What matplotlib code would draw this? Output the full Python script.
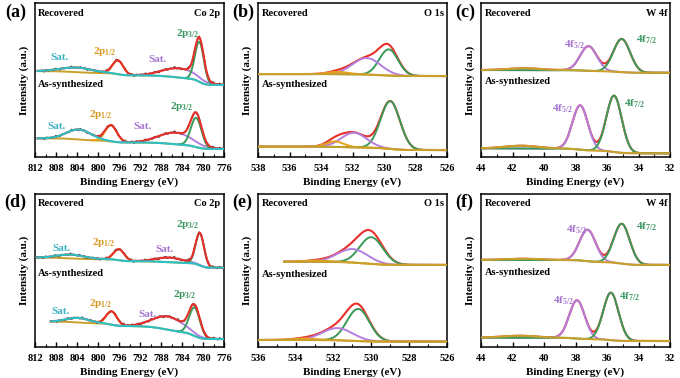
import numpy as np                      # Number handling
import matplotlib.pyplot as plt         # For graphing
from matplotlib.ticker import MultipleLocator

plt.rcParams['font.family'] = ['Liberation Serif', 'DejaVu Serif']
plt.rcParams['font.weight'] = 'bold'
plt.rcParams['axes.labelweight'] = 'bold'
plt.rcParams['mathtext.fontset'] = 'custom'
plt.rcParams['mathtext.rm'] = 'Liberation Serif:bold'
plt.rcParams['mathtext.it'] = 'Liberation Serif:bold:italic'
plt.rcParams['mathtext.bf'] = 'Liberation Serif:bold'

# ---- data (intensity in % of panel height) ----
# Co 2p components: Sat. (~804), 2p1/2, Sat. (~786), 2p3/2
a_rec_center = [804.0, 796.2, 784.5, 780.7]
a_rec_height = [3.0, 9.0, 6.0, 26.0]
a_rec_fwhm = [7.0, 2.4, 7.5, 2.0]
a_rec_base = [55.8, 46.8]          # background at high BE end / low BE end
a_rec_span = [811.5, 776.0]

a_as_center = [803.6, 797.5, 785.2, 781.3]
a_as_height = [6.5, 10.5, 7.5, 19.0]
a_as_fwhm = [5.5, 2.6, 7.5, 2.4]
a_as_base = [12.1, 5.2]
a_as_span = [811.5, 776.0]

d_rec_center = [805.0, 796.0, 786.3, 780.6]
d_rec_height = [2.5, 7.2, 3.0, 21.0]
d_rec_fwhm = [6.0, 2.4, 6.0, 1.9]
d_rec_base = [58.4, 51.8]
d_rec_span = [811.7, 776.0]

d_as_center = [803.7, 797.4, 786.6, 781.6]
d_as_height = [3.0, 8.7, 8.6, 18.5]
d_as_fwhm = [5.0, 2.4, 7.0, 2.4]
d_as_base = [16.6, 5.2]
d_as_span = [809.0, 776.0]

# raw counts scatter around the fit (Co 2p only)
co_noise = [0.6, -0.4, 0.9, -0.7, 0.2, 1.0, -0.5, 0.4, -0.9, 0.7, -0.2, 0.8,
            -0.6, 0.3, -1.0, 0.5, 0.9, -0.3, 0.1, -0.8, 0.6, -0.5, 1.1, -0.2,
            0.4, -0.7, 0.8, -0.1, 0.5, -0.9, 0.3, 0.7, -0.6, 0.2, -0.4, 0.9,
            -0.8, 0.4, -0.3, 0.6, -1.0, 0.7, 0.1, -0.5, 0.8, -0.2, 0.5, -0.7,
            1.0, -0.4, 0.3, -0.6, 0.9, -0.1, 0.4, -0.8, 0.6, -0.3, 0.7, -0.5,
            0.2, -0.9, 0.5, -0.2, 0.8, -0.6, 0.3, -0.4, 1.0, -0.7, 0.4, -0.1,
            0.6, -0.8, 0.2, 0.9, -0.5, 0.3, -0.3, 0.7, -0.9, 0.5, -0.2, 0.4]

# O 1s components: lattice O, OH, adsorbed water
b_rec_center = [529.7, 531.1, 532.9]
b_rec_height = [17.0, 10.8, 1.5]
b_rec_fwhm = [1.4, 2.1, 1.5]
b_rec_base = [53.9, 52.6]
b_rec_span = [538.0, 526.0]

b_as_center = [529.6, 531.9, 533.1]
b_as_height = [31.0, 9.5, 3.5]
b_as_fwhm = [1.45, 1.9, 1.3]
b_as_base = [6.7, 4.5]
b_as_span = [538.0, 526.0]

e_rec_center = [530.0, 531.0, 532.8]
e_rec_height = [17.4, 8.8, 0.8]
e_rec_fwhm = [1.45, 1.9, 1.5]
e_rec_base = [55.7, 53.6]
e_rec_span = [534.6, 526.0]

e_as_center = [530.7, 531.8, 533.5]
e_as_height = [21.0, 8.0, 1.0]
e_as_fwhm = [1.4, 1.9, 1.5]
e_as_base = [4.6, 3.5]
e_as_span = [536.0, 526.0]

# W 4f components: W 5p bump, 4f5/2, 4f7/2
c_rec_center = [41.2, 37.17, 35.06]
c_rec_height = [1.2, 16.0, 21.5]
c_rec_fwhm = [2.5, 1.25, 1.25]
c_rec_base = [56.5, 54.7]
c_rec_span = [44.0, 32.0]

c_as_center = [41.4, 37.7, 35.55]
c_as_height = [1.8, 28.8, 36.6]
c_as_fwhm = [2.5, 1.15, 1.15]
c_as_base = [5.6, 2.4]
c_as_span = [44.0, 32.0]

f_rec_center = [41.2, 37.23, 35.06]
f_rec_height = [0.8, 20.5, 26.0]
f_rec_fwhm = [2.5, 1.2, 1.2]
f_rec_base = [56.9, 53.6]
f_rec_span = [44.0, 32.0]

f_as_center = [41.5, 37.9, 35.75]
f_as_height = [1.3, 25.0, 31.0]
f_as_fwhm = [2.5, 1.15, 1.15]
f_as_base = [6.1, 3.9]
f_as_span = [44.0, 32.0]

RED = '#e8302a'
GREEN = '#3a9a58'
ORANGE = '#e8a01c'
PURPLE = '#b47ede'
TEAL = '#2cc0c4'
OLIVE = '#c8a02a'
RAW = '#3c3c3c'
T_TEAL = '#3ab2c0'
T_ORANGE = '#d89a22'
T_PURPLE = '#a474d0'
T_GREEN = '#3a9660'


def gauss(x, c, h, w):
    return h * np.exp(-4 * np.log(2) * (x - c) ** 2 / w ** 2)


def fit_curves(span, base, center, height, fwhm):  # components + Shirley type background
    x = np.linspace(min(span), max(span), 800)
    comps = [gauss(x, c, h, w) for c, h, w in zip(center, height, fwhm)]
    total = np.sum(comps, axis=0)
    step = np.cumsum(total) / np.sum(total)
    bg = base[1] + (base[0] - base[1]) * step
    return x, bg, comps


def draw_co(ax, span, base, center, height, fwhm):
    x, bg, comps = fit_curves(span, base, center, height, fwhm)
    ax.plot(x, bg, color=OLIVE, lw=1.4, zorder=1)
    for i, col in [(1, ORANGE), (2, PURPLE), (3, GREEN)]:
        m = np.abs(x - center[i]) < 1.4 * fwhm[i]
        ax.plot(x[m], bg[m] + comps[i][m], color=col, lw=1.4, zorder=2)
    env = bg + np.sum(comps, axis=0)
    rx = np.linspace(min(span), max(span), len(co_noise))
    ax.plot(rx, np.interp(rx, x, env) + np.array(co_noise), color=RAW, lw=0.8, zorder=3)
    ax.plot(x, env, color=RED, lw=1.5, zorder=4)
    ax.plot(x, bg + comps[0], color=TEAL, lw=1.5, zorder=5)


def draw_smooth(ax, span, base, center, height, fwhm, colors, bump=False):
    x, bg, comps = fit_curves(span, base, center, height, fwhm)
    env = bg + np.sum(comps, axis=0)
    ax.plot(x, env, color=RED, lw=1.5, zorder=2)
    for comp, col in zip(comps, colors):
        if col is not None:
            ax.plot(x, bg + comp, color=col, lw=1.4, zorder=3)
    top = bg + comps[0] if bump else bg  # W 5p bump sits in the olive line
    ax.plot(x, top, color=OLIVE, lw=1.5, zorder=4)


def style_axes(ax, xlim, major, minor):
    ax.set_ylim(0, 100)
    ax.set_yticks([])
    ticks = np.arange(min(xlim), max(xlim) + 0.1, major)
    ax.set_xticks(ticks)
    ax.set_xticklabels([f'{t:g}' for t in ticks], fontweight='bold')
    ax.xaxis.set_minor_locator(MultipleLocator(minor))
    ax.set_xlim(xlim)
    ax.tick_params(axis='x', which='major', direction='in', length=3.5, width=1, labelsize=7.5, pad=5)
    ax.tick_params(axis='x', which='minor', direction='in', length=2, width=0.8)
    for s in ax.spines.values():
        s.set_linewidth(1.1)
    ax.set_xlabel('Binding Energy (eV)', fontsize=8, labelpad=3, fontweight='bold')
    ax.set_ylabel('Intensity (a.u.)', fontsize=8, labelpad=4, fontweight='bold')


def label(ax, x, y, text, color='black', ha='center', size=7.5):
    ax.text(x, y, text, transform=ax.transAxes, color=color, ha=ha, va='center',
            fontsize=size, fontweight='bold', zorder=10)


fig = plt.figure(figsize=(6.8, 3.78), dpi=100)

cols = [35 / 680, 258 / 680, 481 / 680]
rows = [(0.5847, 0.407), (0.082, 0.405)]
axs = [[fig.add_axes([c, r[0], 189 / 680, r[1]]) for c in cols] for r in rows]

p12 = r'2p$_{1/2}$'
p32 = r'2p$_{3/2}$'
f52 = r'4f$_{5/2}$'
f72 = r'4f$_{7/2}$'

# (a) and (d) Co 2p
co_sets = [
    (axs[0][0], (a_rec_span, a_rec_base, a_rec_center, a_rec_height, a_rec_fwhm),
     (a_as_span, a_as_base, a_as_center, a_as_height, a_as_fwhm),
     [(0.132, 0.647), (0.37, 0.684), (0.648, 0.634), (0.81, 0.803)],
     [(0.115, 0.201), (0.349, 0.273), (0.569, 0.197), (0.776, 0.327)], 0.468, 0.933),
    (axs[1][0], (d_rec_span, d_rec_base, d_rec_center, d_rec_height, d_rec_fwhm),
     (d_as_span, d_as_base, d_as_center, d_as_height, d_as_fwhm),
     [(0.141, 0.645), (0.365, 0.684), (0.683, 0.634), (0.81, 0.797)],
     [(0.137, 0.235), (0.348, 0.286), (0.598, 0.214), (0.794, 0.34)], 0.482, 0.937),
]
for ax, rec, asy, rec_pos, as_pos, as_y, top_y in co_sets:
    draw_co(ax, *rec)
    draw_co(ax, *asy)
    style_axes(ax, (812, 776), 4, 2)
    for pos in (rec_pos, as_pos):
        for (px, py), txt, col in zip(pos, ['Sat.', p12, 'Sat.', p32], [T_TEAL, T_ORANGE, T_PURPLE, T_GREEN]):
            label(ax, px, py, txt, col, size=8)
    label(ax, 0.016, top_y, 'Recovered', ha='left')
    label(ax, 0.98, top_y, 'Co 2p', ha='right')
    label(ax, 0.016, as_y, 'As-synthesized', ha='left')

# (b) and (e) O 1s
o_sets = [
    (axs[0][1], (b_rec_span, b_rec_base, b_rec_center, b_rec_height, b_rec_fwhm),
     (b_as_span, b_as_base, b_as_center, b_as_height, b_as_fwhm), (538, 526), 0.468, 0.933),
    (axs[1][1], (e_rec_span, e_rec_base, e_rec_center, e_rec_height, e_rec_fwhm),
     (e_as_span, e_as_base, e_as_center, e_as_height, e_as_fwhm), (536, 526), 0.475, 0.937),
]
for ax, rec, asy, xlim, as_y, top_y in o_sets:
    draw_smooth(ax, *rec, colors=[GREEN, PURPLE, ORANGE])
    draw_smooth(ax, *asy, colors=[GREEN, PURPLE, ORANGE])
    style_axes(ax, xlim, 2, 1)
    label(ax, 0.019, top_y, 'Recovered', ha='left')
    label(ax, 0.984, top_y, 'O 1s', ha='right')
    label(ax, 0.019, as_y, 'As-synthesized', ha='left')

# (c) and (f) W 4f
w_sets = [
    (axs[0][2], (c_rec_span, c_rec_base, c_rec_center, c_rec_height, c_rec_fwhm),
     (c_as_span, c_as_base, c_as_center, c_as_height, c_as_fwhm),
     [(0.497, 0.727), (0.877, 0.764)], [(0.431, 0.316), (0.81, 0.348)], 0.489, 0.933),
    (axs[1][2], (f_rec_span, f_rec_base, f_rec_center, f_rec_height, f_rec_fwhm),
     (f_as_span, f_as_base, f_as_center, f_as_height, f_as_fwhm),
     [(0.506, 0.765), (0.877, 0.786)], [(0.436, 0.30), (0.788, 0.325)], 0.488, 0.937),
]
for ax, rec, asy, rec_pos, as_pos, as_y, top_y in w_sets:
    draw_smooth(ax, *rec, colors=[None, PURPLE, GREEN], bump=True)
    draw_smooth(ax, *asy, colors=[None, PURPLE, GREEN], bump=True)
    style_axes(ax, (44, 32), 2, 1)
    for pos in (rec_pos, as_pos):
        for (px, py), txt, col in zip(pos, [f52, f72], [T_PURPLE, T_GREEN]):
            label(ax, px, py, txt, col, size=8)
    label(ax, 0.018, top_y, 'Recovered', ha='left')
    label(ax, 0.985, top_y, 'W 4f', ha='right')
    label(ax, 0.018, as_y, 'As-synthesized', ha='left')

# panel letters
for txt, x, y in [('(a)', 16, 12), ('(b)', 243, 12), ('(c)', 465, 12),
                  ('(d)', 15, 202), ('(e)', 242, 202), ('(f)', 464, 202)]:
    fig.text(x / 680, 1 - y / 378, txt, fontsize=13, fontweight='bold', ha='center', va='center')

fig.savefig('out.png', dpi=100)
